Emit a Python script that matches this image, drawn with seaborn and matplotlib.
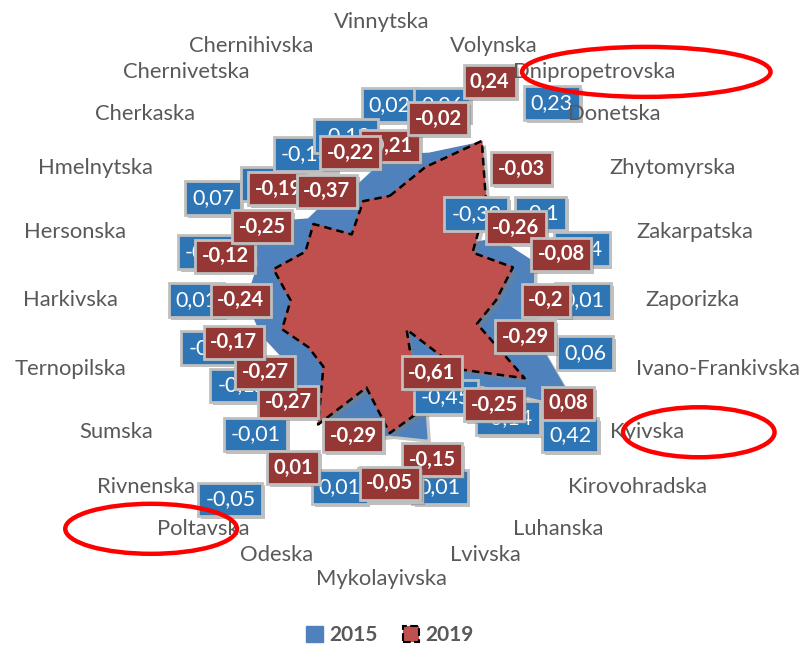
import numpy as np
import pandas as pd
import matplotlib
matplotlib.use("Agg")
import matplotlib.pyplot as plt
import matplotlib.patheffects as pe
import matplotlib.transforms as mtransforms
from matplotlib.patches import Patch, Ellipse
import seaborn as sns

categories = ["Vinnytska", "Volynska", "Dnipropetrovska", "Donetska", "Zhytomyrska",
              "Zakarpatska", "Zaporizka", "Ivano-Frankivska", "Kyivska", "Kirovohradska",
              "Luhanska", "Lvivska", "Mykolayivska", "Odeska", "Poltavska", "Rivnenska",
              "Sumska", "Ternopilska", "Harkivska", "Hersonska", "Hmelnytska", "Cherkaska",
              "Chernivetska", "Chernihivska"]
values_2015 = [0.02, 0.06, 0.23, -0.39, -0.1, 0.04, 0.01, 0.06, 0.42, -0.14,
               -0.45, 0.01, -0.04, 0.01, -0.05, -0.01, -0.12, -0.05, 0.01, -0.03,
               0.07, -0.15, -0.13, -0.12]
values_2019 = [-0.21, -0.02, 0.24, -0.03, -0.26, -0.08, -0.2, -0.29, 0.08, -0.25,
               -0.61, -0.15, -0.05, -0.29, 0.01, -0.27, -0.27, -0.17, -0.24, -0.12,
               -0.25, -0.19, -0.37, -0.22]
series_names = ["2015", "2019"]
highlighted = ["Dnipropetrovska", "Kyivska", "Poltavska"]

# hand-moved data labels (pixel nudges, as in the source chart)
label_nudges = {
    "2015": {"Dnipropetrovska": (46, -4), "Kyivska": (-50, -2), "Poltavska": (-68, -41)},
    "2019": {"Dnipropetrovska": (-17, 16)},
}

sns.set_theme(style="white")
plt.rcParams['font.family'] = ['Lato', 'DejaVu Sans']

BLUE_FILL = "#4F81BD"
RED_FILL = "#C0504D"
BLUE_LAB = "#2E75B6"
RED_LAB = "#953735"
GREY = "#595959"

RMIN, RMAX = -0.8, 0.6
R_PX = 248.0  # axes radius in pixels

fig = plt.figure(figsize=(8.02, 6.48), dpi=100)
ax = fig.add_axes([0.177, 0.154, 0.618, 0.765], projection='polar')
ax.set_theta_zero_location('N')
ax.set_theta_direction(-1)
ax.patch.set_alpha(0)

n = len(categories)
theta = np.arange(n) * 2 * np.pi / n
df = pd.DataFrame({
    "category": categories * 2,
    "theta": np.tile(theta, 2),
    "value": values_2015 + values_2019,
    "year": [series_names[0]] * n + [series_names[1]] * n,
})

def closed(year):
    d = df[df["year"] == year]
    t = np.append(d["theta"].values, d["theta"].values[0] + 2 * np.pi)
    v = np.append(d["value"].values, d["value"].values[0])
    return t, v

shadow = [pe.SimplePatchShadow(offset=(3, -3), shadow_rgbFace="#7f7f7f", alpha=0.45), pe.Normal()]

t15, v15 = closed("2015")
ax.fill(t15, v15, color=BLUE_FILL, zorder=2, path_effects=shadow)
t19, v19 = closed("2019")
ax.fill(t19, v19, color=RED_FILL, zorder=3, path_effects=shadow)
sns.lineplot(x=t19, y=v19, ax=ax, sort=False, estimator=None, color="black",
             linestyle=(0, (3, 2)), linewidth=1.8, zorder=4)

ax.set_ylim(RMIN, RMAX)
ax.grid(False)
ax.set_xticks([])
ax.set_yticks([])
ax.set_xlabel("")
ax.set_ylabel("")
ax.spines['polar'].set_visible(False)

def fmt(v):
    return f"{v:g}".replace(".", ",")

px_to_data = (RMAX - RMIN) / R_PX
lab_off = 50 * px_to_data
box_shadow = [pe.SimplePatchShadow(offset=(2, -2), shadow_rgbFace="#808080", alpha=0.5), pe.Normal()]

label_styles = [
    ("2015", values_2015, BLUE_LAB, "normal", 15.5, 6),
    ("2019", values_2019, RED_LAB, "bold", 14.5, 7),
]
for year, vals, fc, weight, fs, zo in label_styles:
    for th, v, cat in zip(theta, vals, categories):
        dx, dy = label_nudges[year].get(cat, (0, 0))
        tr = mtransforms.offset_copy(ax.transData, fig=fig, x=dx, y=dy, units='dots')
        t = ax.text(th, v + lab_off, fmt(v), ha="center", va="center", color="white",
                    fontsize=fs, fontweight=weight, zorder=zo, transform=tr,
                    bbox=dict(boxstyle="square,pad=0.32", facecolor=fc, edgecolor="#BFBFBF",
                              linewidth=2.0))
        t.get_bbox_patch().set_path_effects(box_shadow)

cat_trans = mtransforms.offset_copy(ax.transData, fig=fig, x=-8.5, y=0, units='dots')
cat_texts = {}
for th, cat in zip(theta, categories):
    s, c = np.sin(th), np.cos(th)
    if s > 0.05:
        ha = "left"
    elif s < -0.05:
        ha = "right"
    else:
        ha = "center"
    rpx = 264 if abs(s) > 0.05 else 279
    r = RMIN + rpx * px_to_data
    cat_texts[cat] = ax.text(th, r, cat, ha=ha, va="center", fontsize=15.8, color=GREY,
                             zorder=8, clip_on=False, transform=cat_trans)

handles = [Patch(facecolor=BLUE_FILL, edgecolor=BLUE_FILL),
           Patch(facecolor=RED_FILL, edgecolor="black", linestyle="--", linewidth=1.5)]
fig.legend(handles, series_names, loc="center", bbox_to_anchor=(390 / 802, 1 - 635 / 648),
           ncol=2, frameon=False, prop={"weight": "bold", "size": 15}, labelcolor=GREY,
           handlelength=0.8, handleheight=0.8, handletextpad=0.3, columnspacing=1.2)

fig.canvas.draw()
renderer = fig.canvas.get_renderer()
for cat in highlighted:
    bb = cat_texts[cat].get_window_extent(renderer)
    cx = (bb.x0 + bb.x1) / 2
    cy = (bb.y0 + bb.y1) / 2
    side = 1 if cx > 390 else -1
    w = 1.1 * bb.width + 70
    e = Ellipse((cx + side * 52, cy), width=w, height=50, fill=False, edgecolor="#FF0000",
                linewidth=3.2, transform=mtransforms.IdentityTransform(), zorder=20)
    fig.add_artist(e)

fig.savefig("out.png", dpi=100)
